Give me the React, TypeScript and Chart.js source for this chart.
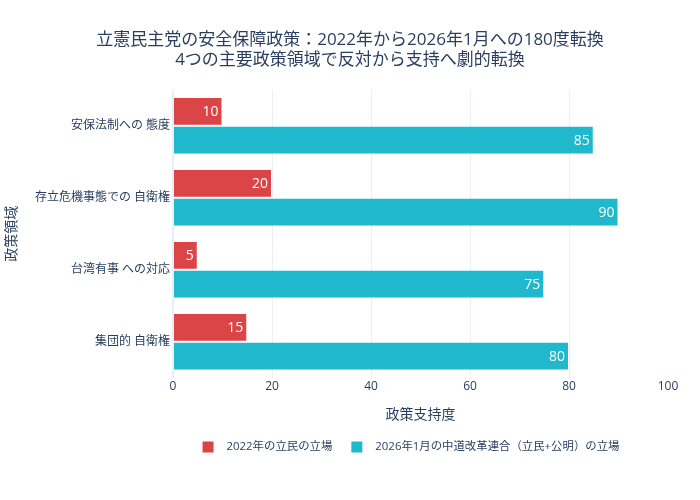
import React, { useEffect, useRef } from "react";
import { Chart, registerables } from "chart.js";

Chart.register(...registerables);

const categories = ["安保法制への 態度", "存立危機事態での 自衛権", "台湾有事 への対応", "集団的 自衛権"];
const values2022 = [10, 20, 5, 15];
const values2026 = [85, 90, 75, 80];
const seriesNames = ["2022年の立民の立場", "2026年1月の中道改革連合（立民+公明）の立場"];
const seriesColors = ["#DB4547", "#1FB8CD"];
const titleLines = ["立憲民主党の安全保障政策：2022年から2026年1月への180度転換", "4つの主要政策領域で反対から支持へ劇的転換"];
const xTitle = "政策支持度";
const yTitle = "政策領域";

const FONT = '"Open Sans", "Noto Sans CJK JP", sans-serif';
const TEXT = "#2a3f5f";

const labelPlugin = {
  id: "barLabels",
  afterDatasetsDraw(chart: any) {
    const ctx = chart.ctx;
    ctx.save();
    ctx.font = `14px ${FONT}`;
    ctx.fillStyle = "#ffffff";
    ctx.textAlign = "right";
    ctx.textBaseline = "middle";
    chart.data.datasets.forEach((ds: any, di: number) => {
      const meta = chart.getDatasetMeta(di);
      meta.data.forEach((el: any, i: number) => {
        const { x, y } = el.getProps(["x", "y"], true);
        ctx.fillText(String(ds.data[i]), x - 4, y + 1);
      });
    });
    ctx.restore();
  },
};

const legendPlugin = {
  id: "plotLegend",
  afterDraw(chart: any) {
    const ctx = chart.ctx;
    const area = chart.chartArea;
    ctx.save();
    ctx.font = `11.4px ${FONT}`;
    ctx.textBaseline = "middle";
    ctx.textAlign = "left";
    const box = 11;
    const gap = 13;
    const trail = 19;
    const items = chart.data.datasets.map((ds: any) => ({
      text: ds.label,
      color: ds.backgroundColor,
      w: box + gap + ctx.measureText(ds.label).width + trail,
    }));
    const total = items.reduce((s: number, it: any) => s + it.w, 0);
    let x = (area.left + area.right) / 2 - total / 2;
    const cy = 447;
    items.forEach((it: any) => {
      ctx.fillStyle = it.color;
      ctx.fillRect(x, cy - box / 2, box, box);
      ctx.fillStyle = TEXT;
      ctx.fillText(it.text, x + box + gap, cy);
      x += it.w;
    });
    ctx.restore();
  },
};

export default function App() {
  const ref = useRef<HTMLCanvasElement | null>(null);
  useEffect(() => {
    if (!ref.current) return;
    const chart = new Chart(ref.current, {
      type: "bar",
      data: {
        labels: categories,
        datasets: [
          {
            label: seriesNames[0],
            data: values2022,
            backgroundColor: seriesColors[0],
            borderColor: "rgba(255,255,255,0.45)",
            borderWidth: 1,
            categoryPercentage: 0.8,
            barPercentage: 1.0,
          },
          {
            label: seriesNames[1],
            data: values2026,
            backgroundColor: seriesColors[1],
            borderColor: "rgba(255,255,255,0.45)",
            borderWidth: 1,
            categoryPercentage: 0.8,
            barPercentage: 1.0,
          },
        ],
      },
      plugins: [labelPlugin, legendPlugin],
      options: {
        indexAxis: "y",
        animation: false,
        responsive: false,
        layout: { padding: { left: 0, right: 0, top: 0, bottom: 73 } },
        plugins: {
          title: {
            display: true,
            text: titleLines,
            color: TEXT,
            font: { family: FONT, size: 17, weight: "normal", lineHeight: 1.2 },
            padding: { top: 30, bottom: 19 },
          },
          legend: { display: false },
          tooltip: { enabled: false },
        },
        scales: {
          x: {
            min: 0,
            max: 100,
            ticks: {
              stepSize: 20,
              color: TEXT,
              font: { family: FONT, size: 12 },
              padding: 2,
            },
            grid: {
              drawTicks: false,
              color: (c: any) => (c.tick && c.tick.value === 100 ? "rgba(0,0,0,0)" : "#EBF0F8"),
              lineWidth: (c: any) => (c.tick && c.tick.value === 0 ? 2 : 1),
            },
            border: { display: false },
            title: {
              display: true,
              text: xTitle,
              color: TEXT,
              font: { family: FONT, size: 14 },
              padding: { top: 10, bottom: 4 },
            },
          },
          y: {
            ticks: {
              color: TEXT,
              font: { family: FONT, size: 12 },
              padding: 3,
            },
            grid: { display: false, drawTicks: false },
            border: { display: false },
            title: {
              display: true,
              text: yTitle,
              color: TEXT,
              font: { family: FONT, size: 14 },
              padding: { top: 4, bottom: 4 },
            },
            afterFit: (scale: any) => {
              scale.width = 173;
            },
          },
          yRight: {
            type: "category",
            position: "right",
            display: true,
            ticks: { display: false },
            grid: { display: false, drawTicks: false },
            border: { display: false },
            afterFit: (scale: any) => {
              scale.width = 32;
            },
          },
        },
      },
    });
    return () => chart.destroy();
  }, []);
  return (
    <div style={{ position: "fixed", left: 0, top: 0, width: 700, height: 500, background: "#fff" }}>
      <canvas ref={ref} width={700} height={500} style={{ width: 700, height: 500 }} />
    </div>
  );
}
